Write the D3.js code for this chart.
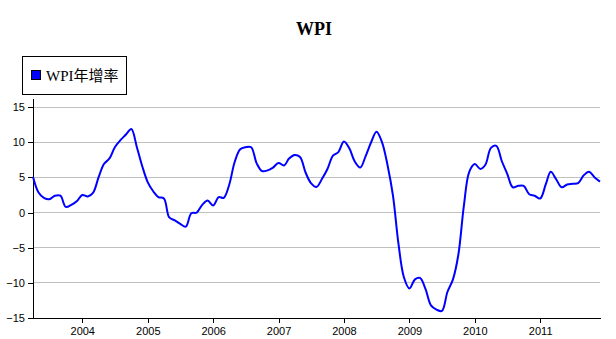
<!DOCTYPE html>
<html>
<head>
<meta charset="utf-8">
<script src="https://d3js.org/d3.v7.min.js"></script>
<style>
  body { margin: 0; background: #fff; }
  .axis text { font-family: "Liberation Sans", Arial, sans-serif; font-size: 11px; fill: #000; }
  .axis path, .axis line { stroke: #000; }
</style>
</head>
<body>
<svg width="616" height="339"></svg>
<script>
// Data: monthly WPI year-over-year growth, Apr 2003 - Dec 2011
var startMonth = "2003-04";
var seriesName = "WPI年增率";
var wpi = [
  // 2003 (Apr-Dec)
  5.1, 2.9, 2.1, 1.9, 2.4, 2.4, 0.8, 1.1, 1.6,
  // 2004
  2.5, 2.3, 2.8, 5.0, 6.9, 7.7, 9.3, 10.3, 11.1, 11.9, 9.3, 6.6,
  // 2005
  4.3, 3.0, 2.2, 2.0, -0.7, -1.1, -1.6, -2.0, -0.1, 0.0, 1.1, 1.7,
  // 2006
  1.0, 2.2, 2.1, 4.0, 7.2, 9.0, 9.3, 9.3, 7.0, 5.9, 6.0, 6.4,
  // 2007
  7.05, 6.7, 7.7, 8.2, 7.9, 5.7, 4.2, 3.65, 4.8, 6.2, 8.1, 8.6,
  // 2008
  10.1, 9.1, 7.3, 6.4, 8.0, 10.0, 11.5, 10.0, 6.7, 2.4, -4.5, -9.2,
  // 2009
  -10.8, -9.5, -9.3, -10.9, -13.2, -13.8, -14.0, -11.3, -9.5, -6.0, 1.0, 5.8,
  // 2010
  6.9, 6.2, 6.8, 9.2, 9.5, 7.3, 5.5, 3.6, 3.8, 3.8, 2.6, 2.4,
  // 2011
  2.0, 4.0, 5.8, 4.7, 3.6, 4.0, 4.1, 4.2, 5.3, 5.8, 5.0, 4.4
];
var yTicks = [-15, -10, -5, 0, 5, 10, 15];
var xTickYears = [2004, 2005, 2006, 2007, 2008, 2009, 2010, 2011];

var svg = d3.select("svg");

var parseMonth = d3.timeParse("%Y-%m");
var t0 = parseMonth(startMonth);
var data = wpi.map((v, i) => ({ date: d3.timeMonth.offset(t0, i), value: v }));

// Scales
var x = d3
  .scaleTime()
  .domain([data[0].date, data[data.length - 1].date])
  .range([33, 600]);

var y = d3.scaleLinear().domain([-15, 16.3]).range([318, 98]);

// Gridlines
svg
  .append("g")
  .selectAll("line")
  .data(yTicks.filter((d) => d > -15))
  .enter()
  .append("line")
  .attr("x1", 33)
  .attr("x2", 600)
  .attr("y1", (d) => y(d))
  .attr("y2", (d) => y(d))
  .attr("stroke", "#c0c0c0")
  .attr("stroke-width", 1)
  .attr("shape-rendering", "crispEdges");

// Axes
svg
  .append("g")
  .attr("class", "axis")
  .attr("transform", "translate(33,0)")
  .attr("shape-rendering", "crispEdges")
  .call(d3.axisLeft(y).tickValues(yTicks).tickSize(5).tickPadding(3).tickSizeOuter(0));

svg
  .append("g")
  .attr("class", "axis")
  .attr("transform", "translate(0,318)")
  .attr("shape-rendering", "crispEdges")
  .call(
    d3
      .axisBottom(x)
      .tickValues(xTickYears.map((yr) => new Date(yr, 0, 1)))
      .tickFormat(d3.timeFormat("%Y"))
      .tickSize(5)
      .tickPadding(4)
      .tickSizeOuter(0)
  );

// Line
var line = d3
  .line()
  .x((d) => x(d.date))
  .y((d) => y(d.value))
  .curve(d3.curveCatmullRom.alpha(0.5));

svg
  .append("path")
  .datum(data)
  .attr("fill", "none")
  .attr("stroke", "#0000ff")
  .attr("stroke-width", 2)
  .attr("d", line);

// Title
svg
  .append("text")
  .attr("x", 314)
  .attr("y", 35)
  .attr("text-anchor", "middle")
  .attr("font-family", "'Liberation Serif', 'Times New Roman', serif")
  .attr("font-size", 18)
  .attr("font-weight", "bold")
  .text("WPI");

// Legend
var legend = svg.append("g");
legend
  .append("rect")
  .attr("x", 22.5)
  .attr("y", 56.5)
  .attr("width", 104)
  .attr("height", 38)
  .attr("fill", "#fff")
  .attr("stroke", "#000");
legend
  .append("rect")
  .attr("x", 31.5)
  .attr("y", 70.5)
  .attr("width", 9)
  .attr("height", 9)
  .attr("fill", "#0000ff")
  .attr("stroke", "#000");
legend
  .append("text")
  .attr("x", 46)
  .attr("y", 81)
  .attr("font-family", "'Liberation Serif', 'Noto Sans CJK TC', serif")
  .attr("font-size", 15)
  .text(seriesName);
</script>
</body>
</html>
